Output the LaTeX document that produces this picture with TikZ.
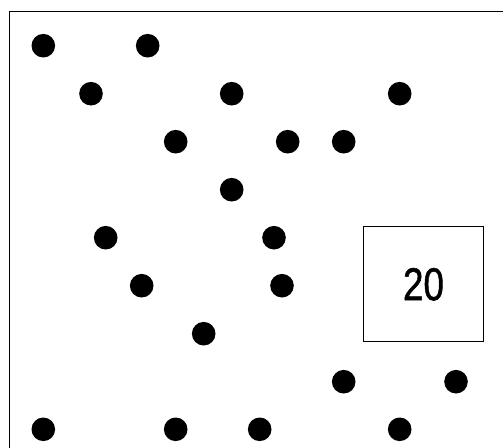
\documentclass[tikz,border=0pt]{standalone}
\usepackage{fontspec}
\setmainfont{Liberation Sans}
\newfontfamily\numfont[FakeBold=1.2]{Liberation Sans}
\begin{document}
\begin{tikzpicture}[x=1pt,y=-1pt,
  dot/.style={fill=black},
  frame/.style={draw=black,line width=0.9pt}]
\useasboundingbox (0,0) rectangle (503,447);
\clip (0,0) rectangle (503,447);
\fill[white] (0,0) rectangle (503,447);
\draw[frame] (9.5,11) rectangle (520,470);
\foreach \x/\y in {43.3/45.7,147.7/45.7,
  91/93.7,231.7/93.7,399.7/93.7,
  175.7/141.7,287.7/141.7,343.7/141.7,
  231.7/189.7,
  105.7/237.7,274/237.7,
  141.7/285.7,282/285.7,
  203.7/333.7,
  343.7/381.7,456/381.7,
  43.3/429.3,175.7/429.3,259.7/429.3,399.7/429.3}
  \fill[dot] (\x,\y) circle (11.8);
\node[frame,minimum width=120pt,minimum height=114.3pt,inner sep=0pt] (box) at (423.3,283.85) {};
\node[inner sep=0pt] (lbl) at (423.5,284.3) {\scalebox{0.8}[1]{\numfont\fontsize{46}{46}\selectfont 20}};
\end{tikzpicture}
\end{document}
